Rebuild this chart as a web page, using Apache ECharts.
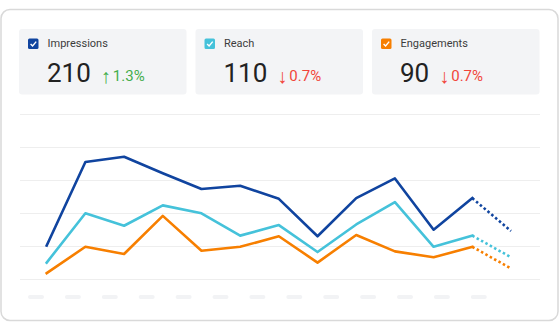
<!DOCTYPE html>
<html><head><meta charset="utf-8">
<script src="https://cdn.jsdelivr.net/npm/echarts@6/dist/echarts.min.js"></script>
<style>html,body{margin:0;padding:0;background:#fff}#c{width:560px;height:322px}</style>
</head><body><div id="c"></div>
<script>
// ---- data ----
const periods = ['1','2','3','4','5','6','7','8','9','10','11','12','13'];
const impressions = [51, 178, 186, 161, 137, 142, 122, 65, 123, 153, 75, 123, 73];
const reach = [25, 100, 81, 112, 100, 66, 82, 41, 83, 117, 49, 66, 33];
const engagements = [9, 49, 38, 96, 43, 49, 65, 25, 67, 42, 33, 49, 16];
const metricNames = ['Impressions', 'Reach', 'Engagements'];
const metricTotals = ['210', '110', '90'];
const metricArrows = ['↑', '↓', '↓'];
const metricChanges = ['1.3%', '0.7%', '0.7%'];
const metricUp = [true, false, false];
const yTicks = [0, 50, 100, 150, 200, 250];
const forecastStart = 11; // last actual index; after it the line is dotted
const placeholderCount = 13;

// ---- styling ----
const colors = ['#10449f', '#45c2da', '#f77f00'];
const FONT = 'Roboto, "Noto Sans", sans-serif';
const allSeries = [impressions, reach, engagements];

function solidPart(arr) { return arr.map((v, i) => i <= forecastStart ? v : null); }
function dottedPart(arr) { return arr.map((v, i) => i >= forecastStart ? v : null); }

const measureCtx = document.createElement('canvas').getContext('2d');
function textWidth(t, font) { measureCtx.font = font; return measureCtx.measureText(t).width; }

const graphic = [];
// outer card
graphic.push({type: 'rect', z: -10, shape: {x: 1, y: 9.5, width: 557, height: 311, r: 9},
  style: {fill: '#fff', stroke: '#d9d9d9', lineWidth: 1.5}, silent: true});
// metric cards
const cardW = 167.5, cardGap = 9, cardX0 = 19, cardY = 29, cardH = 65.5;
metricNames.forEach((name, i) => {
  const x0 = cardX0 + i * (cardW + cardGap);
  graphic.push({type: 'rect', z: -5, shape: {x: x0, y: cardY, width: cardW, height: cardH, r: 3},
    style: {fill: '#f3f4f6'}, silent: true});
  graphic.push({type: 'rect', shape: {x: x0 + 9, y: 38.5, width: 10.5, height: 10.5, r: 1.5},
    style: {fill: colors[i]}, silent: true});
  graphic.push({type: 'polyline', shape: {points: [[x0 + 11.6, 43.9], [x0 + 13.6, 45.9], [x0 + 17.2, 41.6]]},
    style: {stroke: '#fff', lineWidth: 1.4, fill: null}, silent: true});
  graphic.push({type: 'text', x: x0 + 28.5, y: 43.5, silent: true,
    style: {text: name, fill: '#3c3c3c', font: '400 11px ' + FONT, verticalAlign: 'middle'}});
  const numFont = '400 26px ' + FONT;
  graphic.push({type: 'text', x: x0 + 28, y: 73, silent: true,
    style: {text: metricTotals[i], fill: '#222', font: numFont, verticalAlign: 'middle'}});
  const ax = x0 + 28 + textWidth(metricTotals[i], numFont) + 10;
  const col = metricUp[i] ? '#43ad4c' : '#f1453a';
  graphic.push({type: 'text', x: ax, y: 76, silent: true,
    style: {text: metricArrows[i], fill: col, font: '300 20px ' + FONT, verticalAlign: 'middle'}});
  graphic.push({type: 'text', x: ax + 12, y: 76, silent: true,
    style: {text: metricChanges[i], fill: col, font: '400 15px ' + FONT, verticalAlign: 'middle'}});
});
// x-axis placeholder pills
for (let k = 0; k < placeholderCount; k++) {
  const cx = 36 + k * 36.9;
  graphic.push({type: 'rect', shape: {x: cx - 8, y: 295, width: 16, height: 4, r: 2},
    style: {fill: '#f2f3f5'}, silent: true});
}

const series = [];
allSeries.forEach((arr, i) => {
  series.push({name: metricNames[i], type: 'line', xAxisIndex: 1, yAxisIndex: 1,
    data: solidPart(arr), showSymbol: false, symbol: 'none', connectNulls: false,
    lineStyle: {color: colors[i], width: 2.6, cap: 'square', join: 'round'}, z: 10 - i, animation: false});
  series.push({name: metricNames[i] + ' forecast', type: 'line', xAxisIndex: 1, yAxisIndex: 1,
    data: dottedPart(arr), showSymbol: false, symbol: 'none',
    lineStyle: {color: colors[i], width: 2.6, type: [2.5, 2.5], cap: 'butt'}, z: 10 - i, animation: false});
});

const chart = echarts.init(document.getElementById('c'), null, {renderer: 'svg'});
chart.setOption({
  animation: false,
  grid: [
    {left: 20, right: 20, top: 114.7, bottom: 43},
    {left: 46.7, right: 49, top: 114.7, bottom: 43}
  ],
  xAxis: [
    {type: 'category', gridIndex: 0, data: periods, show: false},
    {type: 'category', gridIndex: 1, data: periods, boundaryGap: false, show: false}
  ],
  yAxis: [
    {type: 'value', gridIndex: 0, min: yTicks[0], max: yTicks[yTicks.length - 1], interval: yTicks[1] - yTicks[0],
      axisLabel: {show: false}, axisLine: {show: false}, axisTick: {show: false},
      splitLine: {show: true, lineStyle: {color: '#eeeeee', width: 1}}},
    {type: 'value', gridIndex: 1, min: yTicks[0], max: yTicks[yTicks.length - 1], interval: yTicks[1] - yTicks[0],
      show: false, splitLine: {show: false}}
  ],
  graphic: graphic,
  series: series
});
</script></body></html>
